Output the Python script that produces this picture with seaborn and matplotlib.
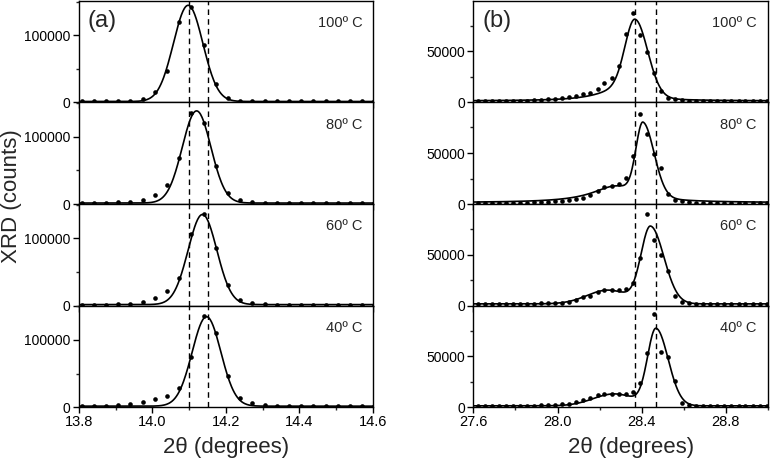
import numpy as np
import pandas as pd
import matplotlib
matplotlib.use("Agg")
import matplotlib.pyplot as plt
from matplotlib.ticker import MultipleLocator
import seaborn as sns

temps = ["100º C", "80º C", "60º C", "40º C"]

# (a) low-angle peak: 2theta positions and measured counts
a_x = [13.807, 13.840, 13.873, 13.907, 13.940, 13.973, 14.006, 14.039, 14.073,
       14.106, 14.139, 14.172, 14.205, 14.239, 14.272, 14.305, 14.338, 14.371,
       14.405, 14.438, 14.471, 14.504, 14.537, 14.571, 14.604]
a_100 = [1500, 1500, 1500, 2000, 2500, 5000, 15000, 47000, 119000, 142000, 86000,
         28000, 6000, 2500, 2000, 1500, 1500, 1500, 1500, 1500, 1500, 1500, 1500,
         1500, 1500]
a_80 = [1500, 1500, 1500, 2500, 3500, 6500, 14000, 29000, 69000, 135000, 121000,
        57000, 17000, 6000, 3500, 2000, 1500, 1500, 1500, 1500, 1500, 1500, 1500,
        1500, 1500]
a_60 = [1500, 1500, 1500, 2000, 3000, 6000, 12000, 21000, 41000, 106000, 136000,
        86000, 30000, 9000, 4500, 2500, 1500, 1500, 1500, 1500, 1500, 1500, 1500,
        1500, 1500]
a_40 = [2000, 2000, 2000, 3000, 4500, 7000, 12000, 17000, 28000, 75000, 135000,
        111000, 47000, 14000, 6000, 3000, 2000, 2000, 2000, 2000, 2000, 2000, 2000,
        2000, 2000]
a_counts = [a_100, a_80, a_60, a_40]

# gaussian fits (a)
a_fit_center = [14.097, 14.120, 14.136, 14.147]
a_fit_height = [143000, 137000, 134000, 133000]
a_fit_sigma = [0.040, 0.039, 0.039, 0.039]
a_baseline = [1500, 1500, 1500, 1500]
a_dash = [14.10, 14.15]

# (b) high-angle peak
b_x = [27.620, 27.654, 27.687, 27.721, 27.754, 27.788, 27.821, 27.855, 27.888,
       27.922, 27.955, 27.989, 28.022, 28.056, 28.089, 28.123, 28.156, 28.190,
       28.223, 28.257, 28.290, 28.324, 28.357, 28.391, 28.424, 28.458, 28.491,
       28.525, 28.558, 28.592, 28.625, 28.659, 28.692, 28.726, 28.759, 28.793,
       28.826, 28.860, 28.893, 28.927, 28.960, 28.994]
b_100 = [1500, 1500, 1500, 1500, 1500, 1500, 1500, 1500, 2300, 2700, 3000, 3700,
         4300, 5300, 6700, 8000, 9700, 13300, 19300, 24000, 35700, 66700, 87700,
         66000, 49300, 29300, 11000, 4700, 3000, 2300, 1500, 1500, 1500, 1500,
         1500, 1500, 1500, 1500, 1500, 1500, 1500, 1500]
b_80 = [1300, 1300, 1300, 1300, 1300, 1300, 1300, 1300, 2000, 2000, 2300, 2700,
        3000, 4000, 5000, 6300, 8700, 13000, 16700, 18000, 20000, 25300, 47000,
        88300, 68300, 48600, 35300, 10000, 4300, 2700, 2000, 1300, 1300, 1300,
        1300, 1300, 1300, 1300, 1300, 1300, 1300, 1300]
b_60 = [1700, 1700, 1700, 1700, 1700, 1700, 1700, 1700, 1700, 2300, 2300, 2700,
        3000, 3700, 5300, 8000, 9700, 13000, 15700, 15700, 15700, 16700, 22300,
        46300, 89600, 64000, 49600, 34000, 9700, 3300, 2300, 1700, 1700, 1700,
        1700, 1700, 1700, 1700, 1700, 1700, 1700, 1700]
b_40 = [1300, 1300, 1300, 1300, 1300, 1300, 1300, 1300, 1300, 1700, 2000, 2300,
        2700, 3300, 4700, 6700, 9000, 11700, 13300, 13300, 13300, 13300, 15000,
        23600, 53300, 91600, 54000, 49600, 25600, 4000, 2300, 1300, 1300, 1300,
        1300, 1300, 1300, 1300, 1300, 1300, 1300, 1300]
b_counts = [b_100, b_80, b_60, b_40]

# fits (b): asymmetric main peak + side component
b_main_center = [28.369, 28.406, 28.442, 28.468]
b_main_height = [73000, 69900, 74500, 74400]
b_main_sig_left = [0.048, 0.033, 0.045, 0.040]
b_main_sig_right = [0.060, 0.053, 0.064, 0.058]
b_side_center = [28.28, 28.28, 28.24, 28.27]
b_side_height = [11000, 16500, 13500, 11700]
b_side_width = [0.12, 0.14, 0.10, 0.10]
b_side_shape = ["lorentz", "lorentz", "gauss", "gauss"]
b_baseline = [1500, 1300, 1700, 1300]
b_dash = [28.37, 28.47]


def bigauss(x, c, h, sl, sr):
    s = np.where(x < c, sl, sr)
    return h * np.exp(-(x - c) ** 2 / (2 * s ** 2))


def side(x, c, h, w, shape):
    if shape == "lorentz":
        return h / (1 + ((x - c) / w) ** 2)
    return h * np.exp(-(x - c) ** 2 / (2 * w ** 2))


sns.set_style("ticks")
plt.rcParams["font.family"] = ["Liberation Sans", "DejaVu Sans"]
plt.rcParams["axes.linewidth"] = 1.0

fig = plt.figure(figsize=(7.7, 4.68), dpi=100)
gs_a = fig.add_gridspec(4, 1, left=0.1026, right=0.4844, top=0.998, bottom=0.130, hspace=0)
gs_b = fig.add_gridspec(4, 1, left=0.6147, right=0.9974, top=0.998, bottom=0.130, hspace=0)


def style_axis(ax, last, xmaj, xmin, ymaj, ymin):
    ax.xaxis.set_major_locator(MultipleLocator(xmaj))
    ax.xaxis.set_minor_locator(MultipleLocator(xmin))
    ax.yaxis.set_major_locator(MultipleLocator(ymaj))
    ax.yaxis.set_minor_locator(MultipleLocator(ymin))
    ax.tick_params(which="major", direction="out", length=4, width=1, labelsize=10,
                   pad=2, colors="black")
    ax.tick_params(which="minor", direction="out", length=2.5, width=1)
    ax.tick_params(axis="x", labelsize=10.5)
    ax.tick_params(labelbottom=last)
    ax.set_xlabel("")
    ax.set_ylabel("")
    for sp in ax.spines.values():
        sp.set_color("black")


xa_fine = np.linspace(13.8, 14.6, 400)
xb_fine = np.linspace(27.6, 29.0, 600)

for i in range(4):
    # panel (a)
    ax = fig.add_subplot(gs_a[i])
    pts = pd.DataFrame({"x": a_x, "y": a_counts[i]})
    fit = a_baseline[i] + a_fit_height[i] * np.exp(
        -(xa_fine - a_fit_center[i]) ** 2 / (2 * a_fit_sigma[i] ** 2))
    sns.lineplot(x=xa_fine, y=fit, color="black", lw=1.2, ax=ax)
    sns.scatterplot(data=pts, x="x", y="y", color="black", s=11, linewidth=0, ax=ax)
    for d in a_dash:
        ax.axvline(d, color="black", lw=1, ls=(0, (4, 3)))
    ax.set_xlim(13.8, 14.6)
    ax.set_ylim(0, 151000)
    style_axis(ax, i == 3, 0.2, 0.1, 100000, 50000)
    ax.text(0.965, 0.78, temps[i], transform=ax.transAxes, ha="right", va="center",
            fontsize=10.5)
    if i == 0:
        ax.text(0.03, 0.80, "(a)", transform=ax.transAxes, ha="left", va="center",
                fontsize=17)

    # panel (b)
    ax = fig.add_subplot(gs_b[i])
    pts = pd.DataFrame({"x": b_x, "y": b_counts[i]})
    fit = (b_baseline[i]
           + bigauss(xb_fine, b_main_center[i], b_main_height[i],
                     b_main_sig_left[i], b_main_sig_right[i])
           + side(xb_fine, b_side_center[i], b_side_height[i], b_side_width[i],
                  b_side_shape[i]))
    sns.lineplot(x=xb_fine, y=fit, color="black", lw=1.2, ax=ax)
    sns.scatterplot(data=pts, x="x", y="y", color="black", s=11, linewidth=0, ax=ax)
    for d in b_dash:
        ax.axvline(d, color="black", lw=1, ls=(0, (4, 3)))
    ax.set_xlim(27.6, 29.0)
    ax.set_ylim(0, 99500)
    style_axis(ax, i == 3, 0.4, 0.2, 50000, 25000)
    ax.text(0.96, 0.78, temps[i], transform=ax.transAxes, ha="right", va="center",
            fontsize=10.5)
    if i == 0:
        ax.text(0.03, 0.80, "(b)", transform=ax.transAxes, ha="left", va="center",
                fontsize=17)

fig.text(12 / 770, 1 - 196 / 468, "XRD (counts)", rotation=90, ha="center",
         va="center", fontsize=16)
fig.text(226 / 770, 1 - 447 / 468, "2θ (degrees)", ha="center", va="center", fontsize=16)
fig.text(631 / 770, 1 - 447 / 468, "2θ (degrees)", ha="center", va="center", fontsize=16)

fig.savefig("out.png", dpi=100)
